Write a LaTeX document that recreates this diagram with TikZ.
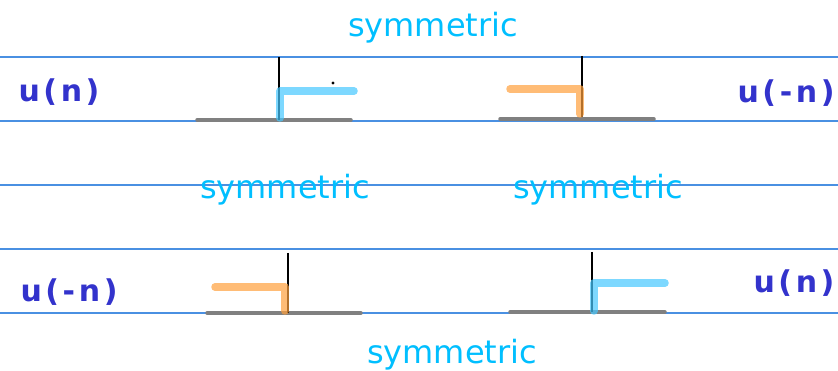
\documentclass[tikz,border=0pt]{standalone}
\usepackage{fontspec}
\setmainfont{DejaVu Sans}
\newfontfamily\hand[LetterSpace=12]{DejaVu Sans}
\definecolor{ruleblue}{RGB}{74,144,226}
\definecolor{symcyan}{RGB}{0,191,255}
\definecolor{handblue}{RGB}{51,51,204}
\definecolor{stepblue}{RGB}{70,200,255}
\definecolor{steporange}{RGB}{255,160,60}
\definecolor{axisgrey}{RGB}{128,128,128}
\tikzset{
  rule/.style={draw=ruleblue, line width=1.2pt},
  symtext/.style={text=symcyan, font=\fontsize{32}{36}\selectfont, inner sep=0pt},
  handtext/.style={text=handblue, font=\hand\bfseries\fontsize{30}{34}\selectfont, inner sep=0pt},
  baseaxis/.style={draw=axisgrey, line width=3.5pt, line cap=round},
  vaxis/.style={draw=black, line width=1.6pt},
  bluestep/.style={draw=stepblue, line width=7.5pt, line cap=round, line join=round, opacity=0.7},
  orangestep/.style={draw=steporange, line width=7.5pt, line cap=round, line join=round, opacity=0.7},
}
\begin{document}
\begin{tikzpicture}[x=1pt,y=-1pt]
\useasboundingbox[fill=white] (0,0) rectangle (838,371);
% ruled lines
\foreach \yy/\nm in {57/r1,121/r2,185/r3,249/r4,313/r5}{
  \coordinate (\nm a) at (0,\yy);
  \coordinate (\nm b) at (838,\yy);
  \draw[rule] (\nm a) -- (\nm b);
}
% texts
\node[symtext] (s1) at (433,28) {symmetric};
\node[symtext] (s2) at (285,190) {symmetric};
\node[symtext] (s3) at (598,190) {symmetric};
\node[symtext] (s4) at (452,355) {symmetric};
\node[handtext] (h1) at (59,92) {u(n)};
\node[handtext] (h2) at (786,93) {u(-n)};
\node[handtext] (h3) at (69,292) {u(-n)};
\node[handtext] (h4) at (794,283) {u(n)};
% top-left: u(n)
\coordinate (a1l) at (197,120); \coordinate (a1r) at (351,120);
\coordinate (v1t) at (279,57); \coordinate (v1b) at (279,120);
\coordinate (b1a) at (280,118); \coordinate (b1b) at (280,91); \coordinate (b1c) at (354,91);
\draw[baseaxis] (a1l) -- (a1r);
\draw[vaxis] (v1t) -- (v1b);
\draw[bluestep] (b1a) -- (b1b) -- (b1c);
\coordinate (dot) at (333,83);
\fill (dot) circle (1.6pt);
% top-right: u(-n)
\coordinate (a2l) at (500,119); \coordinate (a2r) at (654,119);
\coordinate (v2t) at (582,56); \coordinate (v2b) at (582,117);
\coordinate (o2a) at (510,89); \coordinate (o2b) at (580,89); \coordinate (o2c) at (580,114);
\draw[baseaxis] (a2l) -- (a2r);
\draw[vaxis] (v2t) -- (v2b);
\draw[orangestep] (o2a) -- (o2b) -- (o2c);
% bottom-left: u(-n)
\coordinate (a3l) at (207,313); \coordinate (a3r) at (361,313);
\coordinate (v3t) at (288,253); \coordinate (v3b) at (288,313);
\coordinate (o3a) at (215,287); \coordinate (o3b) at (285,287); \coordinate (o3c) at (285,311);
\draw[baseaxis] (a3l) -- (a3r);
\draw[vaxis] (v3t) -- (v3b);
\draw[orangestep] (o3a) -- (o3b) -- (o3c);
% bottom-right: u(n)
\coordinate (a4l) at (510,312); \coordinate (a4r) at (665,312);
\coordinate (v4t) at (592,252); \coordinate (v4b) at (592,312);
\coordinate (b4a) at (594,311); \coordinate (b4b) at (594,283); \coordinate (b4c) at (665,283);
\draw[baseaxis] (a4l) -- (a4r);
\draw[vaxis] (v4t) -- (v4b);
\draw[bluestep] (b4a) -- (b4b) -- (b4c);
\end{tikzpicture}
\end{document}
